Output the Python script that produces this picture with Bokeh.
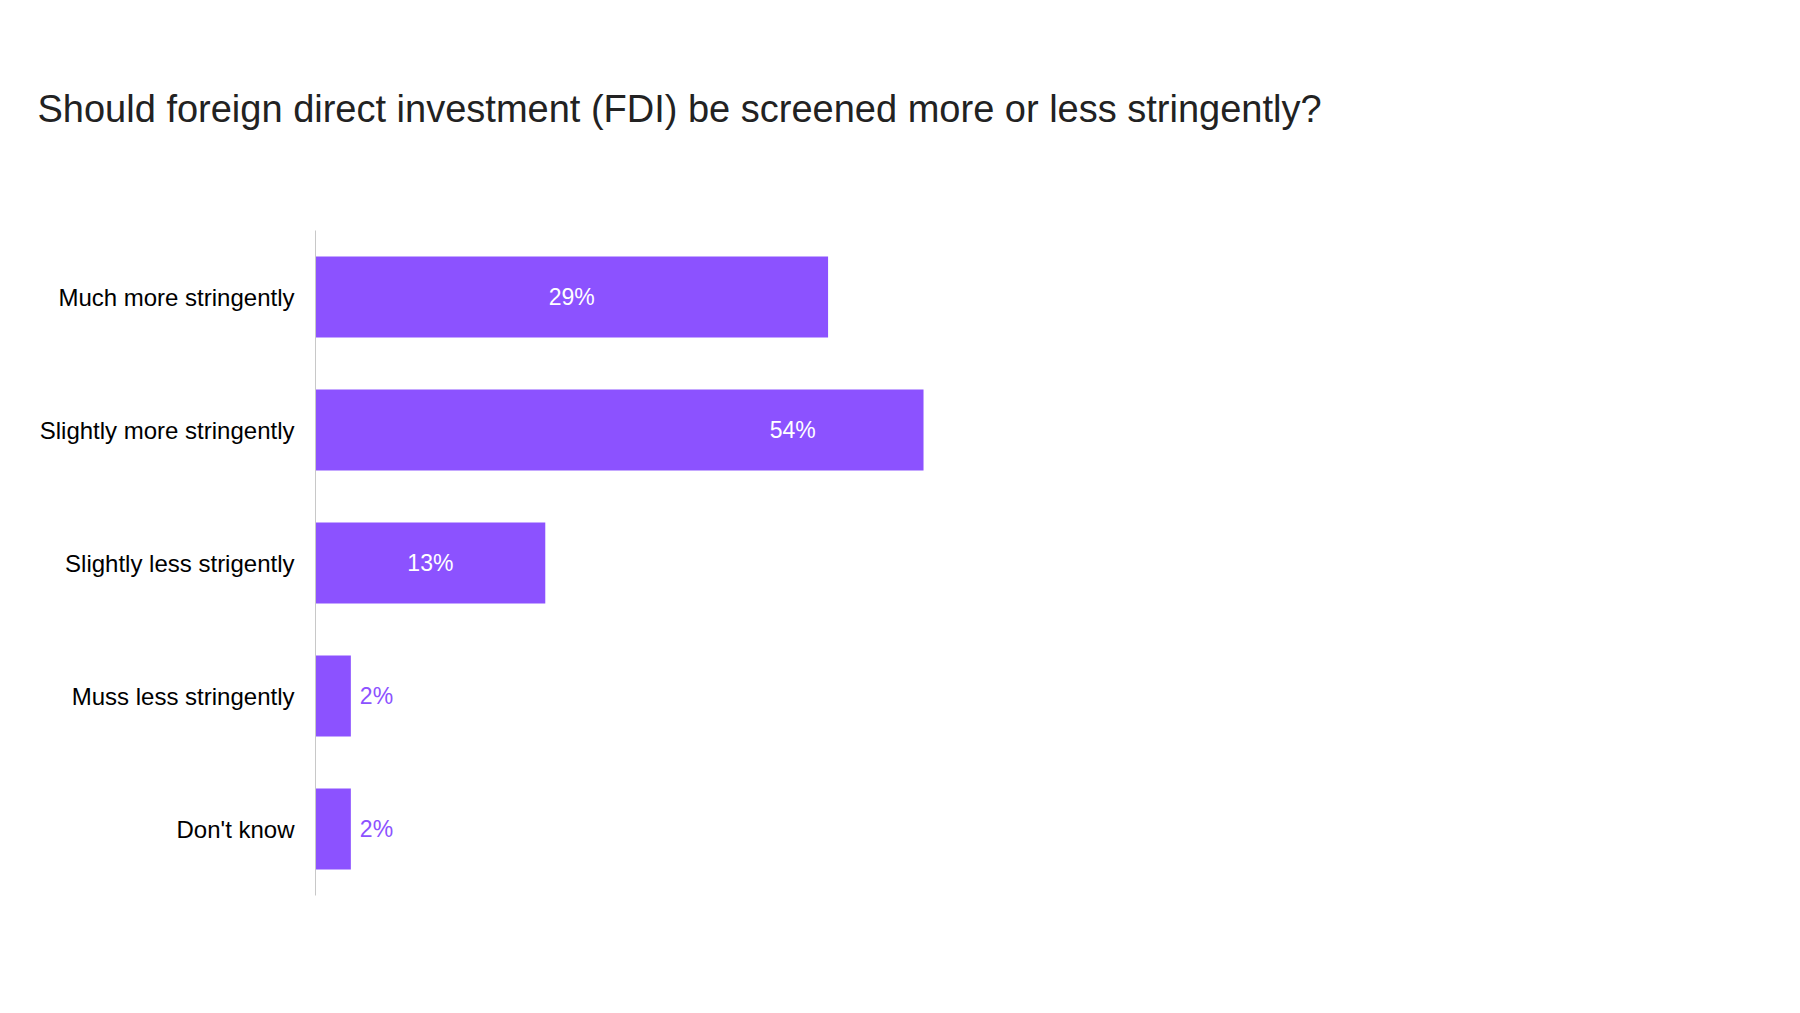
from bokeh.plotting import figure
from bokeh.models import ColumnDataSource, FactorRange, Range1d, Title, LabelSet
from bokeh.core.properties import value
from bokeh.embed import file_html
from bokeh.resources import INLINE

# ---- data ----
categories = ["Much more stringently", "Slightly more stringently",
              "Slightly less strigently", "Muss less stringently", "Don't know"]
bar_lengths = [29, 34.4, 13, 2, 2]          # drawn bar lengths
label_values = [29, 54, 13, 2, 2]           # printed values
value_labels = ["29%", "54%", "13%", "2%", "2%"]
title_text = "Should foreign direct investment (FDI) be screened more or less stringently?"

BAR = "#8C52FF"
FONT = "Liberation Sans"

inside = [i for i, v in enumerate(label_values) if v >= 5]
outside = [i for i, v in enumerate(label_values) if v < 5]

src = ColumnDataSource(dict(cat=categories, val=bar_lengths))
src_in = ColumnDataSource(dict(cat=[categories[i] for i in inside],
                               x=[label_values[i] / 2 for i in inside],
                               txt=[value_labels[i] for i in inside]))
src_out = ColumnDataSource(dict(cat=[categories[i] for i in outside],
                                x=[bar_lengths[i] for i in outside],
                                txt=[value_labels[i] for i in outside]))

p = figure(y_range=FactorRange(*reversed(categories)), x_range=Range1d(0, 80),
           frame_width=1414, frame_height=665,
           min_border_left=315, min_border_right=55, min_border_top=229, min_border_bottom=103,
           x_axis_location=None, output_backend="svg", toolbar_location=None,
           background_fill_color="white", border_fill_color="white")
p.outline_line_color = None
p.grid.visible = False

p.hbar(y="cat", right="val", left=0, height=0.61, source=src, fill_color=BAR, line_color=None)

p.add_layout(LabelSet(x="x", y="cat", text="txt", source=src_in, text_align="center",
                      text_baseline="middle", text_color="white", text_font_size="23px",
                      text_font=value(FONT)))
p.add_layout(LabelSet(x="x", y="cat", text="txt", source=src_out, text_align="left",
                      text_baseline="middle", x_offset=9, text_color=BAR, text_font_size="23px",
                      text_font=value(FONT)))

ax = p.yaxis[0]
ax.axis_line_color = "#C8C8C8"
ax.axis_line_width = 1
ax.major_tick_line_color = None
ax.minor_tick_line_color = None
ax.major_label_text_font = FONT
ax.major_label_text_font_size = "24px"
ax.major_label_text_color = "#000000"
ax.major_label_standoff = 15

spacer = Title(text=" ", text_font_size="1px", standoff=13)
p.add_layout(spacer, "above")
t = Title(text=title_text, align="left", offset=-278, text_font=FONT,
          text_font_size="38px", text_font_style="normal", text_color="#222222", standoff=170)
p.add_layout(t, "above")

open("out.html", "w").write(file_html(p, INLINE))
